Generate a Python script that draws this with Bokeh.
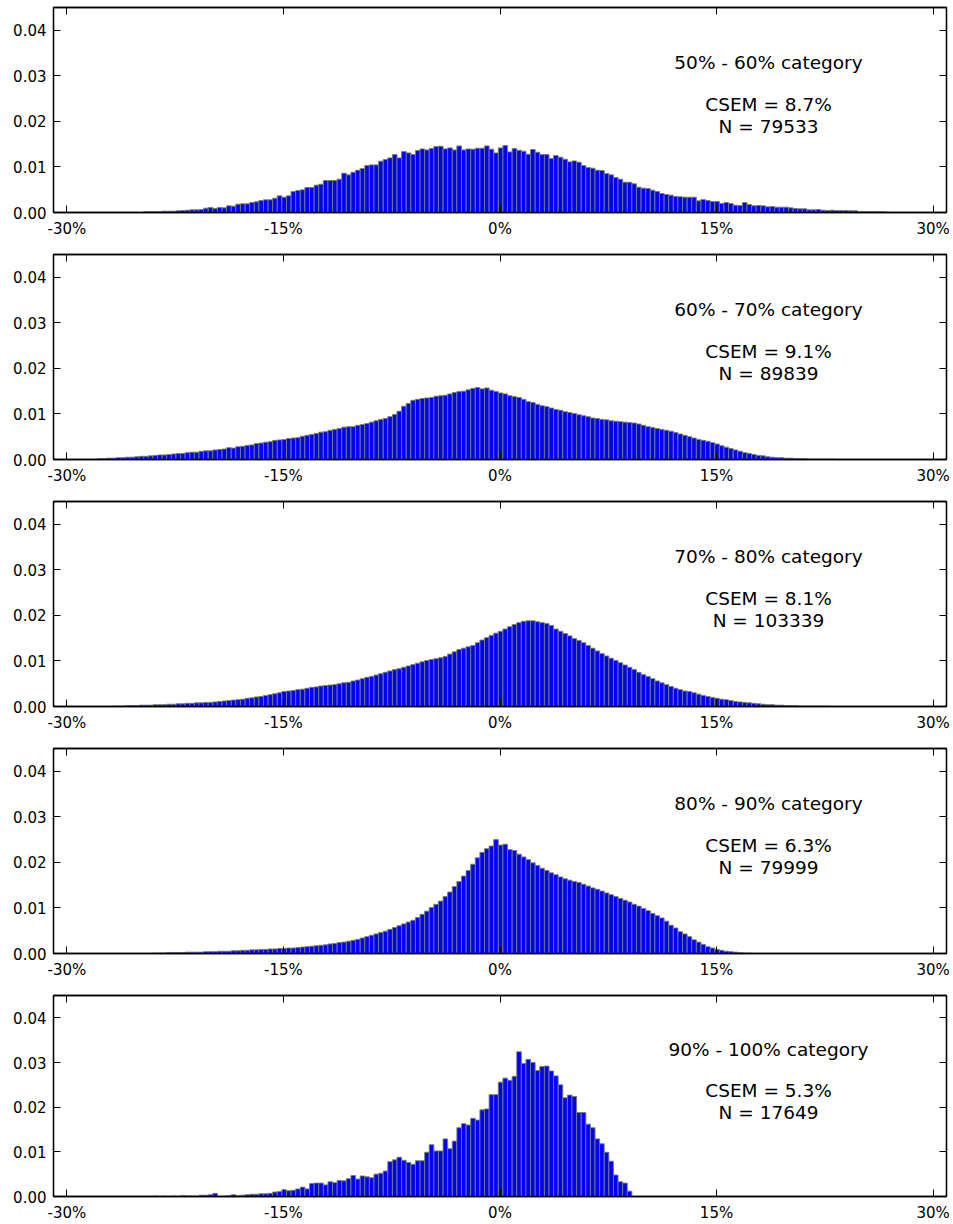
from bokeh.plotting import figure
from bokeh.layouts import column
from bokeh.models import (LinearAxis, FixedTicker, Range1d, NumeralTickFormatter,
                          ColumnDataSource, CustomLabelingPolicy)
from bokeh.core.properties import value
from bokeh.embed import file_html
from bokeh.resources import INLINE

# ---------------- data ----------------
bin_width = 0.319          # histogram bin width, in percent
first_edge = -30.74        # left edge of bin 0, in percent

categories = ["50% - 60% category", "60% - 70% category", "70% - 80% category",
              "80% - 90% category", "90% - 100% category"]
csem = ["8.7%", "9.1%", "8.1%", "6.3%", "5.3%"]
n_obs = [79533, 89839, 103339, 79999, 17649]

x_ticks = [-30, -15, 0, 15, 30]
x_tick_labels = ["-30%", "-15%", "0%", "15%", "30%"]
y_ticks = [0.0, 0.01, 0.02, 0.03, 0.04]

start_bin_1 = 19
heights_1 = [
    0.00022, 0.00022, 0.00022, 0.00022, 0.00029, 0.00029, 0.00029, 0.00037, 0.00044, 0.00051,
    0.00058, 0.00058, 0.00066, 0.00095, 0.00110, 0.00088, 0.00110, 0.00102, 0.00146, 0.00139,
    0.00183, 0.00190, 0.00190, 0.00219, 0.00234, 0.00263, 0.00278, 0.00278, 0.00314, 0.00365,
    0.00336, 0.00365, 0.00461, 0.00482, 0.00497, 0.00548, 0.00548, 0.00600, 0.00621, 0.00702,
    0.00702, 0.00702, 0.00731, 0.00863, 0.00826, 0.00884, 0.00928, 0.00965, 0.01031, 0.01045, 0.01045,
    0.01126, 0.01162, 0.01199, 0.01272, 0.01199, 0.01338, 0.01308, 0.01272, 0.01360, 0.01396,
    0.01374, 0.01404, 0.01447, 0.01455, 0.01396, 0.01418, 0.01374, 0.01462, 0.01374, 0.01396,
    0.01389, 0.01411, 0.01411, 0.01462, 0.01389, 0.01308, 0.01418,
    0.01469, 0.01330, 0.01404, 0.01367, 0.01345, 0.01279, 0.01382, 0.01323, 0.01272, 0.01272,
    0.01184, 0.01250, 0.01213, 0.01170, 0.01111, 0.01133, 0.01104, 0.01031, 0.00987, 0.00972,
    0.00928, 0.00921, 0.00855, 0.00826, 0.00768, 0.00731, 0.00665, 0.00665, 0.00629, 0.00556,
    0.00534, 0.00526, 0.00490, 0.00461, 0.00417, 0.00395, 0.00380, 0.00351, 0.00344, 0.00336,
    0.00336, 0.00336, 0.00256, 0.00285, 0.00263, 0.00241, 0.00241, 0.00197, 0.00219, 0.00197,
    0.00161, 0.00154, 0.00219, 0.00175, 0.00146, 0.00154, 0.00146, 0.00124, 0.00132, 0.00117,
    0.00117, 0.00117, 0.00102, 0.00088, 0.00080, 0.00080, 0.00058, 0.00058, 0.00066, 0.00051,
    0.00044, 0.00051, 0.00044, 0.00044, 0.00044, 0.00037, 0.00037, 0.00022, 0.00022, 0.00022,
    0.00015, 0.00015, 0.00015, 0.00007,
]

start_bin_2 = 9
heights_2 = [
    0.0002, 0.0002, 0.0003, 0.0003, 0.0004, 0.0004, 0.0005, 0.0005, 0.0006,
    0.0007, 0.0007, 0.0008, 0.0009, 0.0010, 0.0010, 0.0011,
    0.0012, 0.0013, 0.0013, 0.0015, 0.0016, 0.0016,
    0.0018, 0.0019, 0.0019, 0.0021, 0.0022, 0.0023,
    0.0026, 0.0025, 0.0028, 0.0029, 0.0031, 0.0032,
    0.0035, 0.0036, 0.0038, 0.0039, 0.0042, 0.0043,
    0.0044, 0.0046, 0.0047, 0.0048, 0.0051, 0.0053,
    0.0055, 0.0057, 0.0060, 0.0061, 0.0064, 0.0066,
    0.0068, 0.0071, 0.0072, 0.0072, 0.0075, 0.0077,
    0.0079, 0.0082, 0.0085, 0.0088, 0.0090, 0.0094,
    0.0099, 0.0106, 0.0117, 0.0123, 0.0130, 0.0132,
    0.0134, 0.0135, 0.0136, 0.0139, 0.0140, 0.0141,
    0.0144, 0.0147, 0.0149, 0.0150, 0.0153, 0.0156,
    0.0158, 0.0155, 0.0157, 0.0152, 0.0149, 0.0146,
    0.0144, 0.0140, 0.0138, 0.0136, 0.0132, 0.0127,
    0.0125, 0.0121, 0.0118, 0.0116, 0.0113, 0.0110,
    0.0108, 0.0105, 0.0103, 0.0101, 0.0098, 0.0096,
    0.0094, 0.0091, 0.0090, 0.0088, 0.0087, 0.0085,
    0.0084, 0.0083, 0.0082, 0.0081, 0.0080, 0.0078,
    0.0075, 0.0072, 0.0070, 0.0068, 0.0066, 0.0064,
    0.0062, 0.0059, 0.0056, 0.0053, 0.0050, 0.0047,
    0.0044, 0.0042, 0.0040, 0.0037, 0.0034, 0.0030,
    0.0027, 0.0024, 0.0021, 0.0018, 0.0015, 0.0013,
    0.0011, 0.0009, 0.0008, 0.0006, 0.0005, 0.0004,
    0.0004, 0.0003, 0.0003, 0.0002, 0.0002, 0.0002,
    0.0001, 0.0001, 0.0001, 0.0001, 0.0001, 0.0001,
]

start_bin_3 = 12
heights_3 = [
    0.0001, 0.0001, 0.0001, 0.0002, 0.0002, 0.0002,
    0.0003, 0.0003, 0.0003, 0.0004, 0.0004, 0.0004,
    0.0005, 0.0005, 0.0006, 0.0006, 0.0007, 0.0007,
    0.0008, 0.0008, 0.0009, 0.0009, 0.0010, 0.0011,
    0.0012, 0.0013, 0.0014, 0.0015, 0.0016, 0.0018,
    0.0019, 0.0021, 0.0022, 0.0024, 0.0026, 0.0028,
    0.0030, 0.0033, 0.0034, 0.0035, 0.0037, 0.0038,
    0.0040, 0.0042, 0.0043, 0.0045, 0.0046, 0.0047,
    0.0048, 0.0050, 0.0052, 0.0053, 0.0056, 0.0058,
    0.0061, 0.0064, 0.0066, 0.0069, 0.0072, 0.0075,
    0.0078, 0.0081, 0.0083, 0.0086, 0.0089, 0.0092,
    0.0095, 0.0098, 0.0101, 0.0103, 0.0105, 0.0107,
    0.0110, 0.0115, 0.0120, 0.0125, 0.0128, 0.0131,
    0.0134, 0.0140, 0.0146, 0.0151, 0.0156, 0.0161,
    0.0165, 0.0170, 0.0175, 0.0180, 0.0184, 0.0187,
    0.0188, 0.0188, 0.0186, 0.0184, 0.0182, 0.0178,
    0.0170, 0.0165, 0.0160, 0.0155, 0.0149, 0.0145,
    0.0140, 0.0134, 0.0128, 0.0122, 0.0116, 0.0111,
    0.0106, 0.0101, 0.0096, 0.0091, 0.0086, 0.0081,
    0.0075, 0.0070, 0.0066, 0.0061, 0.0056, 0.0052,
    0.0048, 0.0044, 0.0040, 0.0037, 0.0034, 0.0033,
    0.0030, 0.0027, 0.0024, 0.0022, 0.0020, 0.0018,
    0.0016, 0.0015, 0.0013, 0.0011, 0.0010, 0.0009,
    0.0008, 0.0007, 0.0006, 0.0005, 0.0004, 0.0004,
    0.0003, 0.0003, 0.0002, 0.0002, 0.0002, 0.0001,
    0.0001, 0.0001, 0.0001, 0.0001, 0.0001, 0.0001,
]

start_bin_4 = 21
heights_4 = [
    0.0001, 0.0001, 0.0001, 0.0002, 0.0002, 0.0002,
    0.0002, 0.0003, 0.0003, 0.0003, 0.0003, 0.0004,
    0.0004, 0.0004, 0.0005, 0.0005, 0.0005, 0.0006,
    0.0006, 0.0007, 0.0007, 0.0008, 0.0008, 0.0009,
    0.0009, 0.0010, 0.0010, 0.0011, 0.0011, 0.0012,
    0.0012, 0.0013, 0.0014, 0.0015, 0.0016, 0.0017,
    0.0018, 0.0019, 0.0021, 0.0022, 0.0024, 0.0025,
    0.0027, 0.0029, 0.0031, 0.0034, 0.0037, 0.0040,
    0.0043, 0.0046, 0.0049, 0.0053, 0.0057, 0.0061,
    0.0065, 0.0069, 0.0073, 0.0079, 0.0086, 0.0093,
    0.0101, 0.0108, 0.0115, 0.0125, 0.0135, 0.0147,
    0.0158, 0.0170, 0.0182, 0.0196, 0.0210, 0.0222,
    0.0230, 0.0236, 0.0250, 0.0238, 0.0240, 0.0228,
    0.0226, 0.0218, 0.0212, 0.0206, 0.0199, 0.0193,
    0.0187, 0.0182, 0.0177, 0.0173, 0.0168, 0.0164,
    0.0161, 0.0158, 0.0156, 0.0152, 0.0148, 0.0144,
    0.0141, 0.0137, 0.0133, 0.0129, 0.0125, 0.0121,
    0.0117, 0.0113, 0.0108, 0.0104, 0.0099, 0.0094,
    0.0088, 0.0083, 0.0078, 0.0071, 0.0062, 0.0056,
    0.0048, 0.0043, 0.0037, 0.0030, 0.0025, 0.0020,
    0.0015, 0.0012, 0.0009, 0.0007, 0.0005, 0.0004,
    0.0003, 0.0002, 0.0001, 0.0001,
]

start_bin_5 = 21
heights_5 = [
    0.0001, 0.0000, 0.0001, 0.0000, 0.0001, 0.0000, 0.0002, 0.0001, 0.0001, 0.0001,
    0.0003, 0.0003, 0.0004, 0.0007, 0.0000, 0.0001, 0.0002, 0.0004, 0.0002, 0.0003,
    0.0004, 0.0005, 0.0005, 0.0006, 0.0006, 0.0007, 0.0010, 0.0011, 0.0015, 0.0013,
    0.0014, 0.0017, 0.0021, 0.0017, 0.0029, 0.0030,
    0.0030, 0.0026, 0.0033, 0.0031, 0.0036, 0.0035, 0.0040, 0.0047, 0.0039, 0.0046,
    0.0044, 0.0042, 0.0050, 0.0052, 0.0057, 0.0078, 0.0082,
    0.0088, 0.0081, 0.0076, 0.0072, 0.0080, 0.0080, 0.0099, 0.0116, 0.0102, 0.0102,
    0.0129, 0.0107, 0.0124, 0.0154, 0.0163, 0.0160, 0.0175, 0.0171, 0.0194, 0.0196,
    0.0228, 0.0228, 0.0256, 0.0265, 0.0260, 0.0269, 0.0324, 0.0298, 0.0307, 0.0300,
    0.0282, 0.0291, 0.0292, 0.0281, 0.0270, 0.0250, 0.0221, 0.0227, 0.0224, 0.0188,
    0.0188, 0.0162, 0.0154, 0.0129, 0.0118, 0.0099, 0.0079, 0.0048, 0.0033, 0.0030,
    0.0012,
]

panels = [(start_bin_1, heights_1), (start_bin_2, heights_2), (start_bin_3, heights_3),
          (start_bin_4, heights_4), (start_bin_5, heights_5)]

FONT = "DejaVu Sans"


def make_panel(i, start_bin, heights, last):
    h = 236 if last else 247
    p = figure(width=953, height=h, output_backend="svg", toolbar_location=None,
               x_range=Range1d(-30.93, 30.93), y_range=Range1d(0, 0.045),
               min_border_left=53, min_border_right=7, min_border_top=7,
               min_border_bottom=24 if last else 35, x_axis_location=None,
               y_axis_location=None)
    p.grid.visible = False
    p.outline_line_color = "black"
    p.outline_line_width = 1.3
    p.background_fill_color = "white"
    p.border_fill_color = "white"

    left = [first_edge + (start_bin + k) * bin_width for k in range(len(heights))]
    right = [l + bin_width for l in left]
    src = ColumnDataSource(dict(left=left, right=right, top=heights,
                                bottom=[0.0] * len(heights)))
    p.quad(left="left", right="right", top="top", bottom="bottom", source=src,
           fill_color="#0000ff", line_color="#7a7a7a", line_width=0.9)

    def axis(side, labels):
        ticks = x_ticks if side in ("below", "above") else y_ticks
        ax = LinearAxis(ticker=FixedTicker(ticks=ticks))
        ax.major_tick_in = 7
        ax.major_tick_out = 0
        ax.minor_tick_in = 0
        ax.minor_tick_out = 0
        ax.axis_line_color = "black"
        ax.axis_line_width = 1.3
        ax.major_tick_line_color = "black"
        ax.major_tick_line_width = 1
        ax.major_label_text_font = FONT
        ax.major_label_text_color = "black"
        if side in ("below", "above"):
            ax.major_label_overrides = {t: s for t, s in zip(x_ticks, x_tick_labels)}
        else:
            ax.formatter = NumeralTickFormatter(format="0.00")
        if labels:
            ax.major_label_text_font_size = "15px"
            ax.major_label_standoff = 7
        else:
            ax.major_label_text_font_size = "0px"
            ax.major_label_standoff = 0
            ax.major_label_policy = CustomLabelingPolicy(code="return new Set()")
        p.add_layout(ax, side)

    axis("below", True)
    axis("left", True)
    axis("above", False)
    axis("right", False)

    lines = [categories[i], "CSEM = " + csem[i], "N = " + str(n_obs[i])]
    ys = [0.0329, 0.0237, 0.0189]
    tsrc = ColumnDataSource(dict(x=[18.6] * 3, y=ys, t=lines))
    p.text(x="x", y="y", text="t", source=tsrc, text_align="center",
           text_baseline="middle", text_font=value(FONT), text_font_size="18.5px",
           text_color="black")
    return p


figs = [make_panel(i, sb, hs, i == 4) for i, (sb, hs) in enumerate(panels)]
layout = column(*figs, spacing=0)

open("out.html", "w").write(file_html(layout, INLINE))
